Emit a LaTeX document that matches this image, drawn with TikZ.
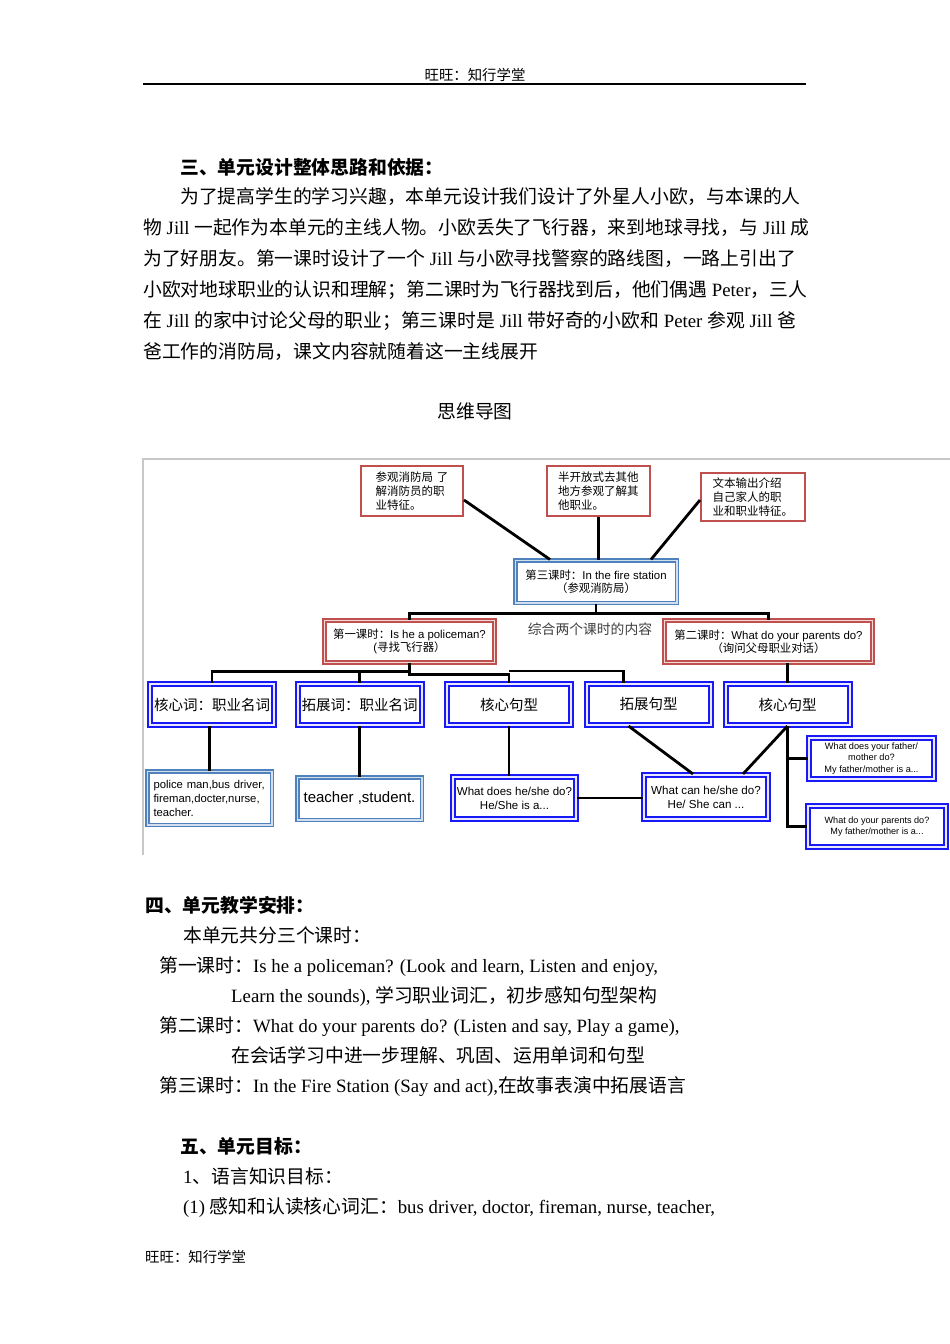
\documentclass[tikz,border=0pt]{standalone}
\usepackage{fontspec}
\setmainfont{Liberation Serif}
\setsansfont{Liberation Sans}
\newfontfamily\zhfont{Noto Sans CJK SC}
\usepackage{xcolor}
\usepackage{tikz}
\usetikzlibrary{calc}
\definecolor{boxred}{RGB}{192, 80, 77}
\definecolor{boxsteel}{RGB}{79, 129, 189}
\definecolor{boxblue}{RGB}{25, 25, 245}
\definecolor{notegray}{RGB}{64, 64, 64}
\definecolor{framegray}{RGB}{200, 200, 200}

% Chinese runs switch to the CJK font by themselves
\newXeTeXintercharclass\zhclass
\newcount\zhcode
\def\zhrange#1#2{\zhcode=#1 \loop\XeTeXcharclass\zhcode=\zhclass \advance\zhcode by 1 \ifnum\zhcode<#2 \repeat}
\zhrange{"3000}{"3040}
\zhrange{"4E00}{"A000}
\zhrange{"FF00}{"FFF0}
\XeTeXinterchartoks 0 \zhclass = {\begingroup\zhfont}
\XeTeXinterchartoks 4095 \zhclass = {\begingroup\zhfont}
\XeTeXinterchartoks \zhclass 0 = {\endgroup}
\XeTeXinterchartoks \zhclass 4095 = {\endgroup}

\tikzset{
  body/.style={anchor=base west, inner sep=0pt, font=\fontsize{18.8}{23}\selectfont},
  headline/.style={body, font=\fontsize{18.8}{23}\selectfont\bfseries},
  smallnote/.style={inner sep=0pt, font=\fontsize{14.4}{17}\selectfont},
  taskbox/.style={draw=boxred, line width=2pt, fill=white, align=left, inner sep=0pt,
    font=\sffamily\fontsize{11.5}{14}\selectfont},
  lessonbox/.style={draw=boxred, double=boxred!22, line width=1.6pt, double distance=1.6pt,
    align=center, inner sep=0pt, font=\sffamily\fontsize{11.4}{13}\selectfont},
  steelbox/.style={draw=boxsteel, double=boxsteel!25, line width=1.5pt, double distance=1.5pt,
    align=center, inner sep=0pt},
  bluebox/.style={draw=boxblue, double=boxblue!10, line width=2pt, double distance=2pt,
    align=center, inner sep=0pt},
  rowbox/.style={bluebox, minimum width=124pt, minimum height=41pt, font=\fontsize{14.5}{17}\selectfont},
  link/.style={line width=2.8pt},
}

\begin{document}
\XeTeXinterchartokenstate=1
\begin{tikzpicture}[x=1pt, y=-1pt, >=stealth]
        \useasboundingbox[fill=white] (0,0) rectangle (950,1344);

        % Page header
        \node[smallnote] (headtitle) at (475,75) {旺旺：知行学堂};
        \draw[line width=1.4pt] (143,84) -- (806,84);

        % Part three
        \node[headline] (partthree) at (180,174) {三、单元设计整体思路和依据：};
        \node[body] (para1) at (180,203) {为了提高学生的学习兴趣，本单元设计我们设计了外星人小欧，与本课的人};
        \node[body] (para2) at (143,234) {物 Jill 一起作为本单元的主线人物。小欧丢失了飞行器，来到地球寻找，与 Jill 成};
        \node[body] (para3) at (143,265) {为了好朋友。第一课时设计了一个 Jill 与小欧寻找警察的路线图，一路上引出了};
        \node[body] (para4) at (143,296) {小欧对地球职业的认识和理解；第二课时为飞行器找到后，他们偶遇 Peter，三人};
        \node[body] (para5) at (143,327) {在 Jill 的家中讨论父母的职业；第三课时是 Jill 带好奇的小欧和 Peter 参观 Jill 爸};
        \node[body] (para6) at (143,358) {爸工作的消防局，课文内容就随着这一主线展开};
        \node[body, anchor=base] (maptitle) at (475,418) {思维导图};

        % Mind map frame
        \draw[framegray, line width=1.2pt] (143,855) -- (143,459) -- (950,459);

        % Top notes and third lesson
        \node[taskbox, minimum width=102pt, minimum height=50pt, text width=73pt] (visitnote) at (412,491) {参观消防局 了\\解消防员的职\\业特征。};
        \node[taskbox, minimum width=103pt, minimum height=50pt, text width=81pt] (opennote) at (598.5,491) {半开放式去其他\\地方参观了解其\\他职业。};
        \node[taskbox, minimum width=104pt, minimum height=48pt, text width=81pt] (outputnote) at (753,497) {文本输出介绍\\自己家人的职\\业和职业特征。};
        \node[steelbox, minimum width=161.5pt, minimum height=42.5pt, font=\sffamily\fontsize{11.4}{13}\selectfont] (lessonthree) at (596,581.5) {第三课时：In the fire station\\（参观消防局）};

        \draw[link] ($(visitnote.east)+(0,9)$) -- ($(lessonthree.north)+(-46,0)$);
        \draw[link] (opennote.south) -- (opennote.south |- lessonthree.north);
        \draw[link] ($(outputnote.west)+(0,3)$) -- ($(lessonthree.north)+(55,0)$);

        % First and second lesson
        \node[lessonbox, minimum width=170pt, minimum height=42pt] (lessonone) at (409.5,641.5) {第一课时：Is he a policeman?\\(寻找飞行器）};
        \node[lessonbox, minimum width=208pt, minimum height=42pt] (lessontwo) at (768.5,641.5) {第二课时：What do your parents do?\\（询问父母职业对话）};
        \node[font=\fontsize{13.8}{16}\selectfont, text=notegray, inner sep=0pt] (mergenote) at (590,629) {综合两个课时的内容};

        \draw[link] (lessonthree.south) -- ++(0,10) -| (lessonone.north);
        \draw[link] (lessonthree.south) -- ++(0,10) -| (lessontwo.north);

        % Words and sentences row
        \node[rowbox] (coreword) at (212,704.5) {核心词：职业名词};
        \node[rowbox] (extword) at (359.5,704.5) {拓展词：职业名词};
        \node[rowbox] (coresent) at (509,704.5) {核心句型};
        \node[rowbox] (extsent) at (648.5,704.5) {拓展句型};
        \node[rowbox] (coresenttwo) at (787.5,704.5) {核心句型};

        \coordinate (split) at ($(lessonone.south)+(0,8)$);
        \draw[link] (lessonone.south) -- (split) -| (coreword.north);
        \draw[link] (split) -| (extword.north);
        \draw[link] (split) -- ++(0,3) -| (coresent.north);
        \draw[link] ($(coresent.north)+(0,-12)$) -| ($(extsent.north west)!0.3!(extsent.north east)$);
        \draw[link] (coresenttwo.north) -- (coresenttwo.north |- lessontwo.south);

        % Examples row
        \node[steelbox, minimum width=124.5pt, minimum height=53.5pt, align=left, text width=112pt, font=\sffamily\fontsize{11.3}{14}\selectfont] (wordlist) at (209.5,798) {police man,bus driver,\\fireman,docter,nurse,\\teacher.};
        \node[steelbox, minimum width=124.5pt, minimum height=42.5pt, font=\sffamily\fontsize{15}{18}\selectfont] (extlist) at (359.5,798.5) {teacher ,student.};
        \node[bluebox, minimum width=123pt, minimum height=42pt, font=\sffamily\fontsize{11.5}{14}\selectfont] (doesbox) at (514.5,798) {What does he/she do?\\He/She is a...};
        \node[bluebox, minimum width=124pt, minimum height=44pt, font=\sffamily\fontsize{11.6}{14}\selectfont] (canbox) at (706,797) {What can he/she do?\\He/ She can ...};
        \node[bluebox, minimum width=125pt, minimum height=41pt, font=\sffamily\fontsize{9.2}{11.5}\selectfont] (fatherbox) at (871.5,758.5) {What does your father/\\mother do?\\My father/mother is a...};
        \node[bluebox, minimum width=138pt, minimum height=41pt, font=\sffamily\fontsize{9.1}{11}\selectfont] (parentsbox) at (877,826.5) {What do your parents do?\\My father/mother is a...};

        \draw[link] (wordlist.north) -- (wordlist.north |- coreword.south);
        \draw[link] (extlist.north) -- (extlist.north |- extword.south);
        \draw[link] (coresent.south) -- (coresent.south |- doesbox.north);
        \draw[link] (doesbox.east) -- (doesbox.east -| canbox.west);
        \draw[link] ($(extsent.south)+(-20,0)$) -- ($(canbox.north)+(-13,0)$);
        \draw[link] (coresenttwo.south) -- ($(canbox.north)+(37,0)$);
        \draw[link] (coresenttwo.south) |- (fatherbox.west);
        \draw[link] (coresenttwo.south) |- (parentsbox.west);

        % Part four
        \node[headline] (partfour) at (145,912) {四、单元教学安排：};
        \node[body] (plan0) at (183,942) {本单元共分三个课时：};
        \node[body] (plan1) at (159,972) {第一课时：Is he a policeman? (Look and learn, Listen and enjoy,};
        \node[body] (plan1b) at (231,1002) {Learn the sounds), 学习职业词汇，初步感知句型架构};
        \node[body] (plan2) at (159,1032) {第二课时：What do your parents do? (Listen and say, Play a game),};
        \node[body] (plan2b) at (231,1062) {在会话学习中进一步理解、巩固、运用单词和句型};
        \node[body] (plan3) at (159,1092) {第三课时：In the Fire Station (Say and act),在故事表演中拓展语言};

        % Part five
        \node[headline] (partfive) at (180,1153) {五、单元目标：};
        \node[body] (goal1) at (183,1183) {1、语言知识目标：};
        \node[body] (goal2) at (183,1213) {(1) 感知和认读核心词汇：bus driver, doctor, fireman, nurse, teacher,};

        % Page footer
        \node[smallnote, anchor=base west] (foottitle) at (145,1262.5) {旺旺：知行学堂};
    \end{tikzpicture}
\end{document}
